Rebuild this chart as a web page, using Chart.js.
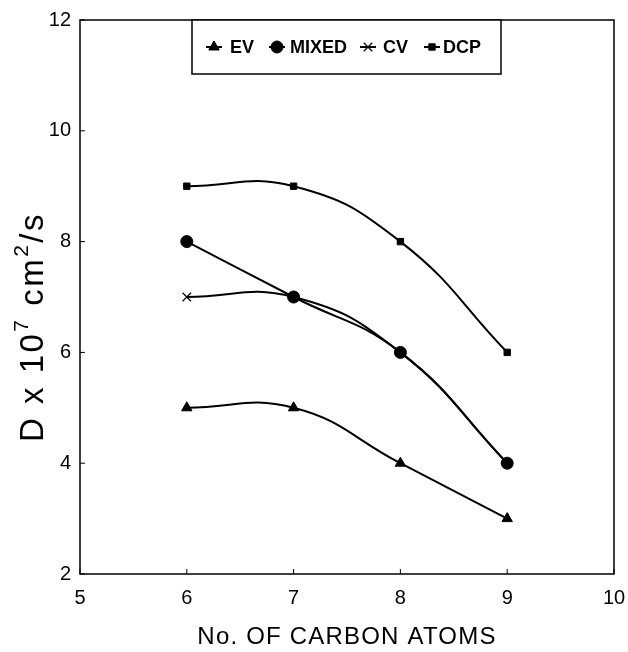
<!DOCTYPE html>
<html>
<head>
<meta charset="utf-8">
<script src="https://cdn.jsdelivr.net/npm/chart.js@4"></script>
<style>
  html,body{margin:0;padding:0;background:#fff;}
  #wrap{width:628px;height:652px;position:relative;}
</style>
</head>
<body>
<div id="wrap"><canvas id="c" width="628" height="652"></canvas></div>
<script>
// carbon atoms on x, D x 10^7 cm^2/s on y
const carbonAtoms = [6, 7, 8, 9];
const evValues    = [5, 5, 4, 3];
const mixedValues = [8, 7, 6, 4];
const cvValues    = [7, 7, 6, 4];
const dcpValues   = [9, 9, 8, 6];
const seriesNames = ['EV', 'MIXED', 'CV', 'DCP'];
const xTicks = [5, 6, 7, 8, 9, 10];
const yTicks = [2, 4, 6, 8, 10, 12];

const FONT = '"Liberation Sans", Arial, sans-serif';
const pts = vals => carbonAtoms.map((x, i) => ({x, y: vals[i]}));

const styles = [
  {pointStyle:'triangle', pointRadius:6, pointBorderWidth:1},
  {pointStyle:'circle',   pointRadius:6, pointBorderWidth:1},
  {pointStyle:'crossRot', pointRadius:6, pointBorderWidth:1.2},
  {pointStyle:'rect',     pointRadius:4.5, pointBorderWidth:1}
];
const allValues = [evValues, mixedValues, cvValues, dcpValues];

const datasets = allValues.map((v, i) => Object.assign({
  label: seriesNames[i],
  data: pts(v),
  showLine: true,
  borderColor: '#000',
  backgroundColor: '#000',
  pointBackgroundColor: '#000',
  pointBorderColor: '#000',
  borderWidth: 2,
  tension: 0.45,
  fill: false
}, styles[i]));

// frame, inner tick marks, legend box and axis titles
const decor = {
  id: 'decor',
  afterDraw(chart){
    const {ctx, chartArea: a, scales:{x, y}} = chart;
    ctx.save();
    ctx.strokeStyle = '#000';
    ctx.lineWidth = 1.5;
    ctx.strokeRect(a.left, a.top, a.right - a.left, a.bottom - a.top);

    ctx.lineWidth = 1;
    xTicks.forEach(t => {
      const px = x.getPixelForValue(t);
      ctx.beginPath(); ctx.moveTo(px, a.bottom); ctx.lineTo(px, a.bottom - 5); ctx.stroke();
    });
    yTicks.forEach(t => {
      const py = y.getPixelForValue(t);
      ctx.beginPath(); ctx.moveTo(a.left, py); ctx.lineTo(a.left + 5, py); ctx.stroke();
    });

    // legend
    const lb = {l:192, t:a.top, r:501, b:74};
    ctx.fillStyle = '#fff';
    ctx.fillRect(lb.l, lb.t, lb.r - lb.l, lb.b - lb.t);
    ctx.lineWidth = 1.5;
    ctx.strokeRect(lb.l, lb.t, lb.r - lb.l, lb.b - lb.t);
    const markX = [214, 277, 368, 432];
    const textX = [230, 290, 383, 443];
    const ly = 47;
    ctx.font = 'bold 18px ' + FONT;
    ctx.textBaseline = 'middle';
    ctx.textAlign = 'left';
    datasets.forEach((ds, i) => {
      ctx.strokeStyle = '#000'; ctx.fillStyle = '#000';
      ctx.lineWidth = 2;
      ctx.beginPath(); ctx.moveTo(markX[i] - 8, ly); ctx.lineTo(markX[i] + 8, ly); ctx.stroke();
      ctx.lineWidth = ds.pointBorderWidth;
      Chart.helpers.drawPoint(ctx, {pointStyle: ds.pointStyle, radius: ds.pointRadius, rotation: 0, borderWidth: ds.pointBorderWidth}, markX[i], ly);
      ctx.fillText(ds.label, textX[i], ly + 1);
    });

    // x title
    ctx.fillStyle = '#000';
    ctx.font = '24px ' + FONT;
    ctx.textAlign = 'center';
    ctx.textBaseline = 'middle';
    ctx.letterSpacing = '1.2px';
    ctx.fillText('No. OF CARBON ATOMS', (a.left + a.right) / 2, 637);

    // y title with superscripts
    ctx.letterSpacing = '2.5px';
    const parts = [
      {t:'D x 10', s:33, dy:0},
      {t:'7', s:21, dy:-12},
      {t:' cm', s:33, dy:0},
      {t:'2', s:21, dy:-12},
      {t:'/s', s:33, dy:0}
    ];
    let w = 0;
    parts.forEach(p => { ctx.font = p.s + 'px ' + FONT; p.w = ctx.measureText(p.t).width; w += p.w; });
    ctx.translate(34, 327);
    ctx.rotate(-Math.PI / 2);
    ctx.textAlign = 'left';
    let cx = -w / 2;
    parts.forEach(p => {
      ctx.font = p.s + 'px ' + FONT;
      ctx.fillText(p.t, cx, p.dy);
      cx += p.w;
    });
    ctx.letterSpacing = '0px';
    ctx.restore();
  }
};

new Chart(document.getElementById('c'), {
  type: 'scatter',
  data: {datasets},
  options: {
    responsive: false,
    animation: false,
    layout: {padding: {left: 0, right: 14, top: 20, bottom: 0}},
    plugins: {legend: {display: false}, tooltip: {enabled: false}},
    scales: {
      x: {
        type: 'linear', min: 5, max: 10,
        afterFit: s => { s.height = 78; s.paddingLeft = 0; s.paddingRight = 0; },
        border: {display: false},
        grid: {display: false, drawTicks: false},
        ticks: {stepSize: 1, color: '#000', padding: 12, font: {family: FONT, size: 20}}
      },
      y: {
        type: 'linear', min: 2, max: 12,
        afterFit: s => { s.width = 80; s.paddingTop = 0; s.paddingBottom = 0; },
        border: {display: false},
        grid: {display: false, drawTicks: false},
        ticks: {stepSize: 2, color: '#000', padding: 9, font: {family: FONT, size: 20}}
      }
    }
  },
  plugins: [decor]
});
</script>
</body>
</html>
